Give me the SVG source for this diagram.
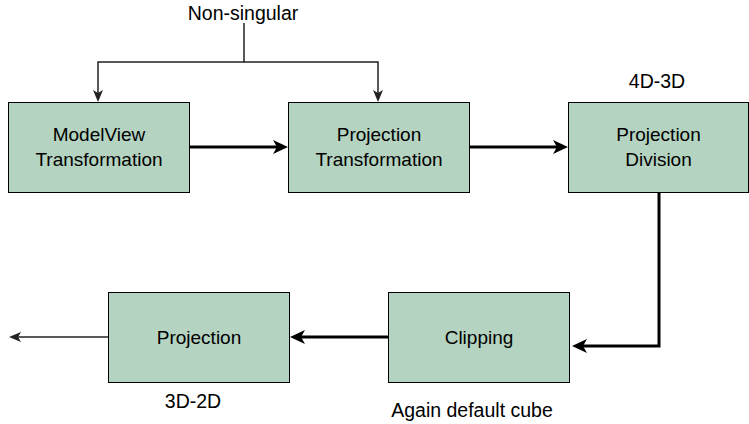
<svg xmlns="http://www.w3.org/2000/svg" width="749" height="424" viewBox="0 0 749 424">
<style>
.box{fill:#b4d3c1;stroke:#000;stroke-width:1}
.t{font-family:"Liberation Sans",Arial,sans-serif;font-size:19px;fill:#000;text-anchor:middle}
.lbl{font-family:"Liberation Sans",Arial,sans-serif;font-size:19.5px;fill:#000;text-anchor:middle}
.thick{fill:none;stroke:#000;stroke-width:3}
.thin{fill:none;stroke:#222;stroke-width:1.5}
</style>
<defs>
<marker id="ah" markerUnits="userSpaceOnUse" viewBox="0 0 15 14" markerWidth="15" markerHeight="14" refX="4" refY="7" orient="auto">
<path d="M0,0 L15,7 L0,14 L4,7 Z" fill="#000"/>
</marker>
<marker id="as" markerUnits="userSpaceOnUse" viewBox="0 0 12 10" markerWidth="12" markerHeight="10" refX="3" refY="5" orient="auto">
<path d="M0,0 L12,5 L0,10 L3,5 Z" fill="#222"/>
</marker>
</defs>
<g id="connectors">
<path class="thin" d="M244,23 V62 H98 V93" marker-end="url(#as)"/>
<path class="thin" d="M244,62 H378 V93" marker-end="url(#as)"/>
<path class="thick" d="M189,147 H277" marker-end="url(#ah)"/>
<path class="thick" d="M469,147 H557" marker-end="url(#ah)"/>
<path class="thick" d="M659,192 V346 H583" marker-end="url(#ah)"/>
<path class="thick" d="M388,337 H301" marker-end="url(#ah)"/>
<path class="thin" d="M108,337 H18" marker-end="url(#as)"/>
</g>
<g id="modelview">
<rect class="box" x="8.5" y="102.5" width="181" height="90"/>
<text class="t" x="99" y="141">ModelView</text>
<text class="t" x="99" y="166">Transformation</text>
</g>
<g id="projection-transformation">
<rect class="box" x="288.5" y="102.5" width="181" height="90"/>
<text class="t" x="379" y="141">Projection</text>
<text class="t" x="379" y="166">Transformation</text>
</g>
<g id="projection-division">
<rect class="box" x="568.5" y="102.5" width="180" height="90"/>
<text class="t" x="658.5" y="141">Projection</text>
<text class="t" x="658.5" y="166">Division</text>
</g>
<g id="clipping">
<rect class="box" x="388.5" y="292.5" width="181" height="90"/>
<text class="t" x="479" y="344">Clipping</text>
</g>
<g id="projection">
<rect class="box" x="108.5" y="292.5" width="181" height="90"/>
<text class="t" x="199" y="344">Projection</text>
</g>
<g id="labels">
<text class="lbl" x="243" y="20">Non-singular</text>
<text class="lbl" x="657" y="88">4D-3D</text>
<text class="lbl" x="193" y="408">3D-2D</text>
<text class="lbl" x="472" y="417">Again default cube</text>
</g>
</svg>
